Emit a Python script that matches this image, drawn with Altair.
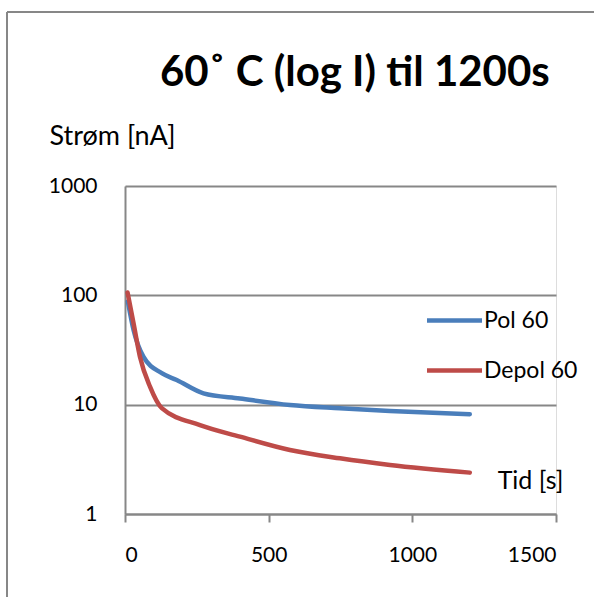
import altair as alt
import pandas as pd

pol_t = [10, 30, 64, 128, 180, 273, 400, 574, 748, 922, 1200]
pol_i = [88, 48, 27.5, 19.4, 16.8, 12.7, 11.4, 9.93, 9.27, 8.76, 8.17]
depol_t = [9, 30, 52, 87, 128, 261, 400, 574, 748, 922, 1200]
depol_i = [106, 55, 27.5, 14.6, 9.3, 6.5, 5.1, 3.85, 3.23, 2.81, 2.39]
series = ["Pol 60", "Depol 60"]
colors = ["#4A7EBB", "#BE4B48"]
x_ticks = [0, 500, 1000, 1500]
y_ticks = [1, 10, 100, 1000]
title_text = "60˚ C (log I) til 1200s"

FONT = "Lato"
GRID = "#878787"

pol = pd.DataFrame({"t": pol_t, "i": pol_i, "serie": series[0]})
depol = pd.DataFrame({"t": depol_t, "i": depol_i, "serie": series[1]})

color = alt.Color(
    "serie:N",
    scale=alt.Scale(domain=series, range=colors),
    legend=alt.Legend(
        title=None,
        orient="none",
        legendX=318,
        legendY=123,
        symbolType="M-5,0H5",
        symbolSize=121,
        symbolStrokeWidth=4.5,
        symbolFillColor="transparent",
        labelOffset=18,
        labelFontSize=23,
        labelFont=FONT,
        labelColor="black",
        rowPadding=26,
        padding=0,
    ),
)

x = alt.X(
    "t:Q",
    scale=alt.Scale(domain=[0, 1500]),
    axis=alt.Axis(
        values=x_ticks,
        format="d",
        grid=False,
        title="Tid [s]",
        titleX=405,
        titleY=-34,
        titleAlign="center",
        titleBaseline="middle",
        titleFontSize=25,
        titleFontWeight="normal",
        titleFont=FONT,
        titleColor="black",
        labelFontSize=21,
        labelFont=FONT,
        labelColor="black",
        labelPadding=22,
        tickSize=8,
        tickWidth=2,
        tickColor=GRID,
        domainColor=GRID,
        domainWidth=2,
    ),
)
y = alt.Y(
    "i:Q",
    scale=alt.Scale(type="log", domain=[1, 1000]),
    axis=alt.Axis(
        values=y_ticks,
        format="d",
        grid=True,
        gridColor=GRID,
        gridWidth=2,
        ticks=False,
        title="Strøm [nA]",
        titleAngle=0,
        titleX=-13,
        titleY=-50,
        titleAlign="center",
        titleBaseline="middle",
        titleFontSize=27,
        titleFontWeight="normal",
        titleFont=FONT,
        titleColor="black",
        labelFontSize=21,
        labelFont=FONT,
        labelColor="black",
        labelPadding=28,
        domainColor=GRID,
        domainWidth=2,
    ),
)

line_pol = alt.Chart(pol).mark_line(strokeWidth=4.5, strokeCap="round", interpolate="monotone").encode(x=x, y=y, color=color)
line_depol = alt.Chart(depol).mark_line(strokeWidth=4.5, strokeCap="round", interpolate="monotone").encode(x=x, y=y, color=color)

title = alt.Chart(pd.DataFrame({"txt": [title_text]})).mark_text(
    align="left", baseline="alphabetic", fontSize=42, fontWeight="bold", font=FONT, color="black"
).encode(text="txt:N", x=alt.value(35), y=alt.value(-100))

frame_v = alt.Chart(pd.DataFrame({"a": [0]})).mark_rule(color=GRID, strokeWidth=2).encode(
    x=alt.value(-118), y=alt.value(-174), y2=alt.value(420)
)
frame_h = alt.Chart(pd.DataFrame({"a": [0]})).mark_rule(color=GRID, strokeWidth=2).encode(
    x=alt.value(-118), x2=alt.value(480), y=alt.value(-174)
)

chart = alt.layer(frame_v, frame_h, line_pol, line_depol, title).properties(
    width=431,
    height=328,
    autosize=alt.AutoSizeParams(type="none"),
    padding={"left": 125, "top": 186, "right": 38, "bottom": 83},
).configure_view(stroke=None).configure(background="white")

chart.save("out.html", embed_options={"renderer": "svg", "actions": False})
